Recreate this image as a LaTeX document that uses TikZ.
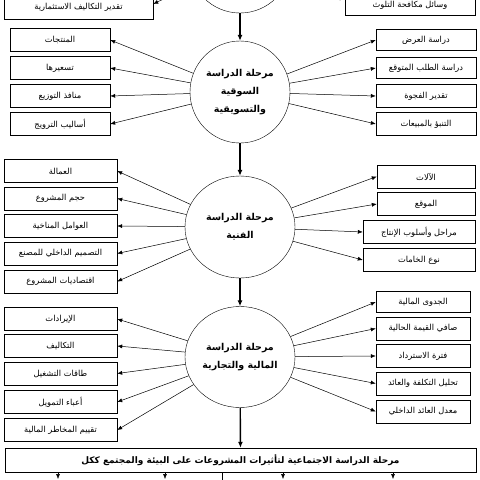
\documentclass[tikz,border=0pt]{standalone}
\usepackage{fontspec}
\usetikzlibrary{shapes.geometric,arrows.meta}
\TeXXeTstate=1
\newfontfamily\arabicfont[Script=Arabic]{DejaVu Sans}
\newcommand\artxt[1]{\beginR#1\endR}

\tikzset{
  stage/.style={draw, ellipse, inner sep=0pt, align=center,
    font=\arabicfont\bfseries\fontsize{9.5}{18}\selectfont},
  item/.style={draw, minimum height=23pt, inner sep=1pt,
    font=\arabicfont\fontsize{8.3}{10}\selectfont},
  flow/.style={-{Latex[length=6pt,width=5pt]}, line width=1.4pt},
  link/.style={-{Latex[length=5pt,width=4pt]}, line width=0.5pt},
}

\begin{document}
\begin{tikzpicture}[x=1pt,y=-1pt]
  \useasboundingbox (0,0) rectangle (480,480);

  % Stages
  \node[stage, minimum width=102pt, minimum height=102pt] (top) at (240,-38) {};
  \node[stage, minimum width=100pt, minimum height=102pt] (mkt) at (240,92)
    {\artxt{مرحلة الدراسة}\\\artxt{السوقية}\\\artxt{والتسويقية}};
  \node[stage, minimum width=110pt, minimum height=102pt] (tech) at (240,227)
    {\artxt{مرحلة الدراسة}\\\artxt{الفنية}};
  \node[stage, minimum width=110pt, minimum height=101pt] (fin) at (240,357)
    {\artxt{مرحلة الدراسة}\\\artxt{المالية والتجارية}};
  \node[draw, minimum width=471pt, minimum height=24pt,
    font=\arabicfont\bfseries\fontsize{9}{11}\selectfont] (soc) at (240.5,460)
    {\artxt{مرحلة الدراسة الاجتماعية لتأثيرات المشروعات على البيئة والمجتمع ككل}};

  % Top stage items
  \node[item, minimum width=149pt, minimum height=30pt, text height=14pt, text depth=3pt] (tl) at (78.5,4)
    {\artxt{تقدير التكاليف الاستثمارية}};
  \node[item, minimum width=130pt, minimum height=30pt, text height=18pt, text depth=3pt] (tr) at (410,0)
    {\artxt{وسائل مكافحة التلوث}};

  % Market stage items
  \node[item, minimum width=100pt] (mL1) at (60,40) {\artxt{المنتجات}};
  \node[item, minimum width=100pt] (mL2) at (60,68) {\artxt{تسعيرها}};
  \node[item, minimum width=100pt] (mL3) at (60,96) {\artxt{منافذ التوزيع}};
  \node[item, minimum width=100pt] (mL4) at (60,124) {\artxt{أساليب الترويج}};
  \node[item, minimum width=100pt, minimum height=21pt] (mR1) at (426,40) {\artxt{دراسة العرض}};
  \node[item, minimum width=100pt, minimum height=21pt] (mR2) at (426,68) {\artxt{دراسة الطلب المتوقع}};
  \node[item, minimum width=100pt] (mR3) at (426,96) {\artxt{تقدير الفجوة}};
  \node[item, minimum width=100pt] (mR4) at (426,124) {\artxt{التنبؤ بالمبيعات}};

  % Technical stage items
  \node[item, minimum width=113pt] (tL1) at (60.5,171) {\artxt{العمالة}};
  \node[item, minimum width=113pt] (tL2) at (60.5,198.5) {\artxt{حجم المشروع}};
  \node[item, minimum width=113pt] (tL3) at (60.5,226) {\artxt{العوامل المناخية}};
  \node[item, minimum width=113pt] (tL4) at (60.5,253.5) {\artxt{التصميم الداخلي للمصنع}};
  \node[item, minimum width=113pt] (tL5) at (60.5,281.5) {\artxt{اقتصاديات المشروع}};
  \node[item, minimum width=98pt] (tR1) at (426,176.5) {\artxt{الآلات}};
  \node[item, minimum width=98pt] (tR2) at (426,204) {\artxt{الموقع}};
  \node[item, minimum width=112pt] (tR3) at (419,232) {\artxt{مراحل وأسلوب الإنتاج}};
  \node[item, minimum width=112pt] (tR4) at (419,260) {\artxt{نوع الخامات}};

  % Financial stage items
  \node[item, minimum width=113pt] (fL1) at (60.5,319) {\artxt{الإيرادات}};
  \node[item, minimum width=113pt] (fL2) at (60.5,346) {\artxt{التكاليف}};
  \node[item, minimum width=113pt] (fL3) at (60.5,373.5) {\artxt{طاقات التشغيل}};
  \node[item, minimum width=113pt] (fL4) at (60.5,402) {\artxt{أعباء التمويل}};
  \node[item, minimum width=113pt] (fL5) at (60.5,430) {\artxt{تقييم المخاطر المالية}};
  \node[item, minimum width=94pt, minimum height=21pt] (fR1) at (423,302) {\artxt{الجدوى المالية}};
  \node[item, minimum width=94pt] (fR2) at (423,328.5) {\artxt{صافي القيمة الحالية}};
  \node[item, minimum width=94pt] (fR3) at (423,356) {\artxt{فترة الاسترداد}};
  \node[item, minimum width=94pt] (fR4) at (423,383.5) {\artxt{تحليل التكلفة والعائد}};
  \node[item, minimum width=94pt] (fR5) at (423,411.5) {\artxt{معدل العائد الداخلي}};

  % Flow between stages
  \draw[flow] (top) -- (mkt);
  \draw[flow] (mkt) -- (tech);
  \draw[flow] (tech) -- (fin);
  \draw[flow] (fin) -- (soc);

  % Stage to items
  \draw[link] (top) -- (tl.east);
  \draw[link] (top) -- (tr.west);
  \foreach \b in {mL1,mL2,mL3,mL4} \draw[link] (mkt) -- (\b.east);
  \foreach \b in {mR1,mR2,mR3,mR4} \draw[link] (mkt) -- (\b.west);
  \foreach \b in {tL1,tL2,tL3,tL4,tL5} \draw[link] (tech) -- (\b.east);
  \foreach \b in {tR1,tR2,tR3,tR4} \draw[link] (tech) -- (\b.west);
  \foreach \b in {fL1,fL2,fL3,fL4,fL5} \draw[link] (fin) -- (\b.east);
  \foreach \b in {fR1,fR2,fR3,fR4,fR5} \draw[link] (fin) -- (\b.west);

  % Below the last stage
  \coordinate (s1) at (58,479);
  \coordinate (s2) at (165,479);
  \coordinate (s3) at (283,479);
  \coordinate (s4) at (393,479);
  \coordinate (s5) at (222,482);
  \foreach \c in {s1,s2,s3,s4} \draw[link] (soc.south -| \c) -- (\c);
  \draw (soc.south -| s5) -- (s5);
\end{tikzpicture}
\end{document}
